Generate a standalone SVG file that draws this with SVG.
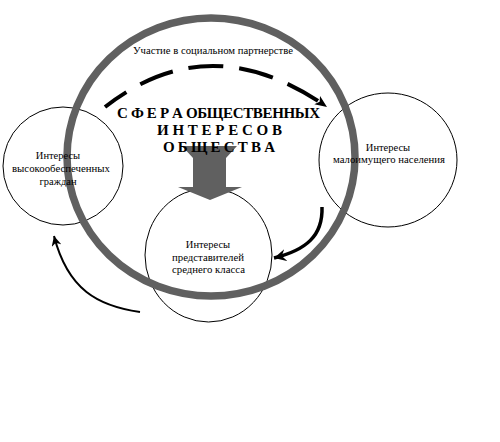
<svg xmlns="http://www.w3.org/2000/svg" width="500" height="442" viewBox="0 0 500 442">
<defs>
<style>
.node{fill:none;stroke:#000;stroke-width:1}
.lbl{font-family:'Liberation Serif',serif;font-size:10.5px;fill:#000;text-anchor:middle}
.title{font-family:'Liberation Serif',serif;font-size:15px;font-weight:bold;fill:#000;text-anchor:middle}
.conn{fill:none;stroke:#000}
</style>
<marker id="ah" markerUnits="userSpaceOnUse" markerWidth="14" markerHeight="12" refX="12" refY="6" orient="auto">
<path d="M0,1 L12,6 L0,11 L3,6 Z" fill="#000"/>
</marker>
<marker id="ah2" markerUnits="userSpaceOnUse" markerWidth="14" markerHeight="12" refX="12" refY="6" orient="auto">
<path d="M0,0 L12,6 L0,12 L4,6 Z" fill="#000"/>
</marker>
<marker id="ah3" markerUnits="userSpaceOnUse" markerWidth="12" markerHeight="10" refX="10" refY="5" orient="auto">
<path d="M0,0 L10,5 L0,10 L3,5 Z" fill="#000"/>
</marker>
</defs>
<rect width="500" height="442" fill="#fff"/>

<g id="node-rich">
<ellipse class="node" cx="63" cy="166" rx="60" ry="59"/>
</g>
<g id="node-poor">
<ellipse class="node" cx="388" cy="160" rx="69" ry="67"/>
</g>
<g id="node-middle">
<ellipse class="node" cx="208.5" cy="255" rx="63.5" ry="67"/>
</g>

<g id="sphere">
<ellipse cx="211" cy="157" rx="144" ry="139" fill="none" stroke="#606060" stroke-width="7.5"/>
</g>

<g id="connectors">
<path class="conn" d="M105,107 Q210,25 327,107" stroke-width="4" stroke-dasharray="35 16" stroke-dashoffset="9" marker-end="url(#ah)"/>
<path class="conn" d="M322,207 C323,236 306,250 274,258" stroke-width="3.5" marker-end="url(#ah2)"/>
<path class="conn" d="M140,312 C98,306 68,290 54,236" stroke-width="2" marker-end="url(#ah3)"/>
<polygon id="updown" points="182,146 237,146 226,158 226,187 242,187 210,200 178,187 193,187 193,158" fill="#606060"/>
</g>

<g id="labels">
<text class="lbl" x="213" y="54" textLength="160" lengthAdjust="spacingAndGlyphs">Участие в социальном партнерстве</text>
<text class="title" x="218.5" y="118" textLength="203" lengthAdjust="spacing">С Ф Е Р А ОБЩЕСТВЕННЫХ</text>
<text class="title" x="219.5" y="135" textLength="125" lengthAdjust="spacing">И Н Т Е Р Е С О В</text>
<text class="title" x="219" y="152" textLength="112" lengthAdjust="spacing">О Б Щ Е С Т В А</text>
<text class="lbl" x="58" y="159">Интересы</text>
<text class="lbl" x="61" y="172" textLength="98" lengthAdjust="spacingAndGlyphs">высокообеспеченных</text>
<text class="lbl" x="58" y="185">граждан</text>
<text class="lbl" x="388" y="151">Интересы</text>
<text class="lbl" x="389" y="163" textLength="112" lengthAdjust="spacingAndGlyphs">малоимущего населения</text>
<text class="lbl" x="208" y="248">Интересы</text>
<text class="lbl" x="208" y="261" textLength="72" lengthAdjust="spacingAndGlyphs">представителей</text>
<text class="lbl" x="208.5" y="273" textLength="73" lengthAdjust="spacingAndGlyphs">среднего класса</text>
</g>
</svg>
